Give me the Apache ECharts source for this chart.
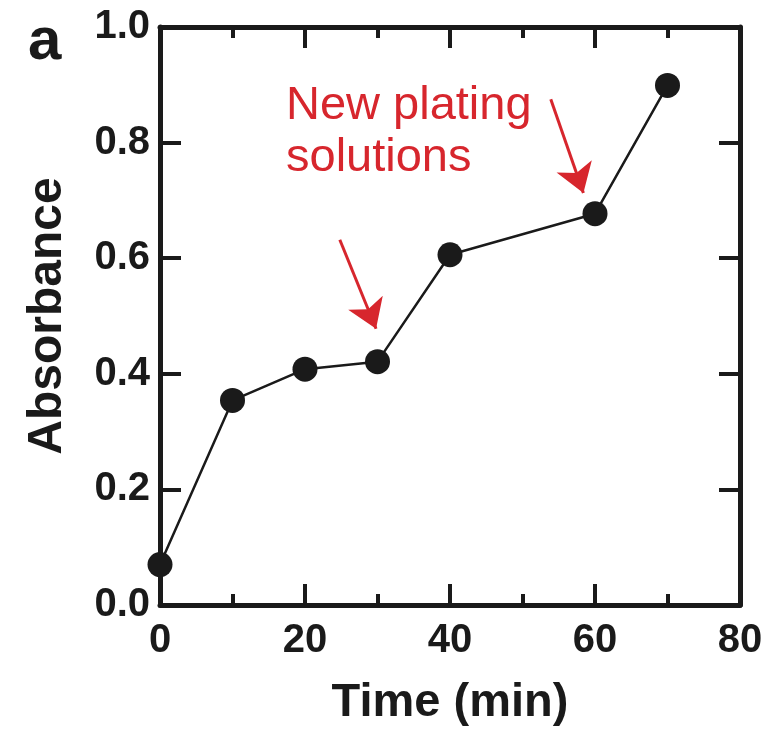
<!DOCTYPE html>
<html>
<head>
<meta charset="utf-8">
<script src="https://cdn.jsdelivr.net/npm/echarts@6/dist/echarts.min.js"></script>
<style>html,body{margin:0;padding:0;background:#fff}#c{width:769px;height:738px}</style>
</head>
<body>
<div id="c"></div>
<script>
const timeMin = [0, 10, 20, 30, 40, 60, 70];
const absorbance = [0.07, 0.354, 0.408, 0.421, 0.606, 0.677, 0.899];
const xTicks = [0, 20, 40, 60, 80];
const yTicks = ['0.0', '0.2', '0.4', '0.6', '0.8', '1.0'];
const annotationText = 'New plating\nsolutions';
const arrows = [
  [[24.8, 0.632], [29.8, 0.478]],
  [[53.9, 0.875], [58.4, 0.713]]
];

const ink = '#1a1a1a';
const red = '#d7262d';
const font = '"Liberation Sans", Arial, sans-serif';

const chart = echarts.init(document.getElementById('c'), null, {renderer: 'canvas'});

function xAx(pos, showLabel) {
  return {
    type: 'value', position: pos, min: 0, max: 80, interval: 20,
    axisLine: {show: true, onZero: false, lineStyle: {color: ink, width: 5}},
    axisTick: {show: true, inside: true, length: 21, lineStyle: {color: ink, width: 4}},
    minorTick: {show: true, splitNumber: 2, length: 11, lineStyle: {color: ink, width: 4}},
    splitLine: {show: false},
    axisLabel: {show: showLabel, color: ink, fontSize: 40, fontWeight: 'bold', fontFamily: font, margin: 16},
    name: showLabel ? 'Time (min)' : '', nameLocation: 'middle', nameGap: 75,
    nameTextStyle: {color: ink, fontSize: 47, fontWeight: 'bold', fontFamily: font}
  };
}
function yAx(pos, showLabel) {
  return {
    type: 'value', position: pos, min: 0, max: 1, interval: 0.2,
    axisLine: {show: true, onZero: false, lineStyle: {color: ink, width: 5}},
    axisTick: {show: true, inside: true, length: 21, lineStyle: {color: ink, width: 4}},
    splitLine: {show: false},
    axisLabel: {show: showLabel, color: ink, fontSize: 40, fontWeight: 'bold', fontFamily: font, margin: 10,
      formatter: v => yTicks[Math.round(v / 0.2)]},
    name: showLabel ? 'Absorbance' : '', nameLocation: 'middle', nameGap: 88, nameRotate: 90,
    nameTextStyle: {color: ink, fontSize: 48, fontWeight: 'bold', fontFamily: font}
  };
}

chart.setOption({
  animation: false,
  backgroundColor: '#fff',
  grid: {left: 160, right: 29, top: 27, bottom: 133, containLabel: false},
  xAxis: [xAx('bottom', true), xAx('top', false)],
  yAxis: [yAx('left', true), yAx('right', false)],
  graphic: [
    {type: 'text', left: 28, top: 12, style: {text: 'a', fontSize: 60, fontWeight: 'bold', fontFamily: font, fill: ink}},
    {type: 'text', left: 286, top: 80, style: {text: annotationText, fontSize: 47, lineHeight: 52, fontFamily: font, fill: red}}
  ],
  series: [{
    type: 'line',
    data: timeMin.map((t, i) => [t, absorbance[i]]),
    symbol: 'circle', symbolSize: 25,
    itemStyle: {color: ink},
    lineStyle: {color: ink, width: 2.5},
    markLine: {
      silent: true,
      symbol: ['none', 'arrow'], symbolSize: 28,
      label: {show: false},
      lineStyle: {color: red, width: 3, type: 'solid'},
      data: arrows.map(a => [{coord: a[0]}, {coord: a[1]}])
    }
  }]
});
</script>
</body>
</html>
